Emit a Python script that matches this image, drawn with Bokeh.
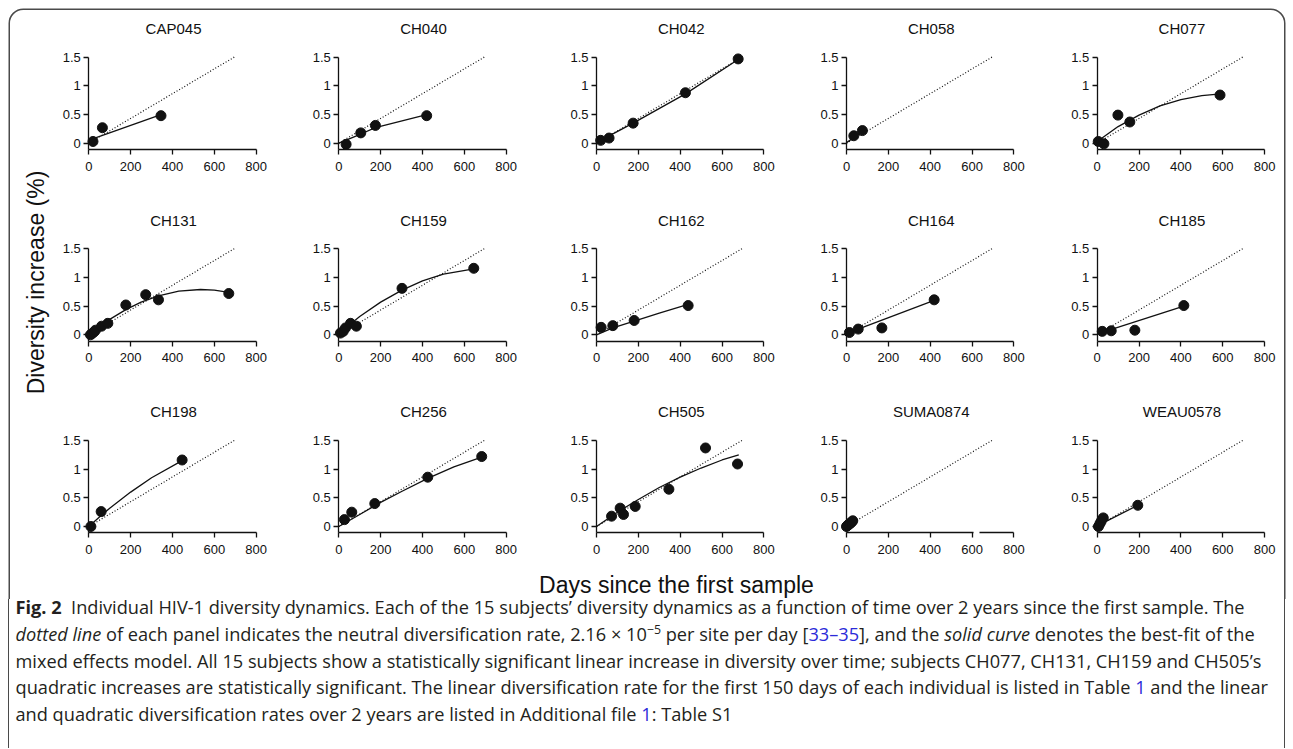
import math
from bokeh.plotting import figure
from bokeh.models import (Range1d, LinearAxis, FixedTicker, CustomJSTickFormatter,
                          Label, Div, BoxAnnotation)
from bokeh.layouts import column
from bokeh.core.properties import value
from bokeh.embed import file_html
from bokeh.resources import INLINE

# ---------------- data ----------------
subjects = ["CAP045", "CH040", "CH042", "CH058", "CH077",
            "CH131", "CH159", "CH162", "CH164", "CH185",
            "CH198", "CH256", "CH505", "SUMA0874", "WEAU0578"]

x_ticks = [0, 200, 400, 600, 800]
y_ticks = [0, 0.5, 1, 1.5]

# neutral diversification rate 2.16e-5 per site per day (in %), drawn to day 700
neutral_days = [0, 700]
neutral_div = [0, 1.512]

cap045_days = [20, 65, 345]
cap045_div = [0.03, 0.27, 0.48]
cap045_fit_days = [15, 345]
cap045_fit = [0.07, 0.50]

ch040_days = [35, 105, 175, 420]
ch040_div = [-0.02, 0.18, 0.31, 0.48]
ch040_fit_days = [0, 105, 175, 420]
ch040_fit = [0.0, 0.16, 0.27, 0.50]

ch042_days = [20, 60, 175, 425, 677]
ch042_div = [0.05, 0.09, 0.35, 0.88, 1.47]
ch042_fit_days = [20, 175, 425, 677]
ch042_fit = [0.05, 0.35, 0.86, 1.46]

ch058_days = [35, 76]
ch058_div = [0.13, 0.22]
ch058_fit_days = [0, 76]
ch058_fit = [0.01, 0.20]

ch077_days = [5, 32, 99, 156, 587]
ch077_div = [0.03, -0.01, 0.49, 0.37, 0.84]
ch077_fit_days = [0, 50, 100, 150, 200, 300, 400, 500, 590]
ch077_fit = [0.03, 0.16, 0.29, 0.39, 0.49, 0.65, 0.76, 0.83, 0.86]

ch131_days = [8, 15, 25, 32, 61, 91, 177, 272, 333, 669]
ch131_div = [0.0, 0.02, 0.05, 0.08, 0.15, 0.20, 0.52, 0.70, 0.61, 0.72]
ch131_fit_days = [0, 50, 100, 177, 250, 333, 430, 534, 600, 669]
ch131_fit = [0.0, 0.14, 0.27, 0.44, 0.57, 0.68, 0.76, 0.79, 0.78, 0.74]

ch159_days = [8, 21, 32, 56, 84, 302, 645]
ch159_div = [0.03, 0.06, 0.12, 0.20, 0.15, 0.81, 1.16]
ch159_fit_days = [0, 56, 100, 200, 302, 400, 500, 645]
ch159_fit = [0.02, 0.19, 0.32, 0.57, 0.78, 0.94, 1.06, 1.15]

ch162_days = [22, 78, 180, 438]
ch162_div = [0.13, 0.16, 0.25, 0.51]
ch162_fit_days = [0, 78, 180, 300, 438]
ch162_fit = [0.0, 0.12, 0.24, 0.38, 0.53]

ch164_days = [14, 56, 169, 419]
ch164_div = [0.04, 0.10, 0.12, 0.61]
ch164_fit_days = [5, 419]
ch164_fit = [0.03, 0.60]

ch185_days = [24, 67, 180, 414]
ch185_div = [0.06, 0.07, 0.08, 0.51]
ch185_fit_days = [20, 414]
ch185_fit = [0.04, 0.50]

ch198_days = [10, 59, 446]
ch198_div = [0.0, 0.26, 1.16]
ch198_fit_days = [0, 59, 100, 200, 300, 446]
ch198_fit = [0.0, 0.19, 0.32, 0.60, 0.85, 1.15]

ch256_days = [27, 62, 172, 425, 683]
ch256_div = [0.12, 0.25, 0.40, 0.86, 1.22]
ch256_fit_days = [0, 100, 200, 300, 425, 550, 683]
ch256_fit = [0.0, 0.21, 0.42, 0.61, 0.84, 1.04, 1.21]

ch505_days = [72, 113, 129, 185, 346, 521, 674]
ch505_div = [0.18, 0.32, 0.21, 0.35, 0.65, 1.37, 1.09]
ch505_fit_days = [0, 100, 200, 300, 400, 500, 600, 680]
ch505_fit = [0.0, 0.25, 0.47, 0.68, 0.86, 1.02, 1.16, 1.25]

suma0874_days = [0, 5, 10, 15, 20, 25, 30]
suma0874_div = [0.0, 0.02, 0.03, 0.05, 0.06, 0.08, 0.10]
suma0874_fit_days = [0, 30]
suma0874_fit = [0.0, 0.10]

weau0578_days = [6, 13, 19, 29, 194]
weau0578_div = [0.0, 0.05, 0.09, 0.15, 0.37]
weau0578_fit_days = [0, 194]
weau0578_fit = [0.01, 0.37]

panels = [
    (cap045_days, cap045_div, cap045_fit_days, cap045_fit),
    (ch040_days, ch040_div, ch040_fit_days, ch040_fit),
    (ch042_days, ch042_div, ch042_fit_days, ch042_fit),
    (ch058_days, ch058_div, ch058_fit_days, ch058_fit),
    (ch077_days, ch077_div, ch077_fit_days, ch077_fit),
    (ch131_days, ch131_div, ch131_fit_days, ch131_fit),
    (ch159_days, ch159_div, ch159_fit_days, ch159_fit),
    (ch162_days, ch162_div, ch162_fit_days, ch162_fit),
    (ch164_days, ch164_div, ch164_fit_days, ch164_fit),
    (ch185_days, ch185_div, ch185_fit_days, ch185_fit),
    (ch198_days, ch198_div, ch198_fit_days, ch198_fit),
    (ch256_days, ch256_div, ch256_fit_days, ch256_fit),
    (ch505_days, ch505_div, ch505_fit_days, ch505_fit),
    (suma0874_days, suma0874_div, suma0874_fit_days, suma0874_fit),
    (weau0578_days, weau0578_div, weau0578_fit_days, weau0578_fit),
]

caption_lines = [
    "Individual HIV-1 diversity dynamics. Each of the 15 subjects\u2019 diversity dynamics as a "
    "function of time over 2 years since the first sample. The",
    "of each panel indicates the neutral diversification rate, 2.16 \u00d7 10",
    "mixed effects model. All 15 subjects show a statistically significant linear increase in "
    "diversity over time; subjects CH077, CH131, CH159 and CH505\u2019s",
    "quadratic increases are statistically significant. The linear diversification rate for the "
    "first 150 days of each individual is listed in Table",
    "and quadratic diversification rates over 2 years are listed in Additional file",
]

# ---------------- layout (pixel geometry, page coordinates) ----------------
PAGE_W = 1293
FH = 599                    # chart figure height
DIV_H = 149                 # caption block height
COL_X0 = [88.3, 338.3, 596.0, 846.0, 1096.7]   # page x of day 0 in each column
ROW_Y0 = [142.7, 334.3, 526.0]                  # page y of 0 % in each row
KX = 167.4 / 800.0          # px per day
KY = 86.0 / 1.5             # px per %
XAXIS_AT = -0.113           # detached x axis position (data units)
BOX_L, BOX_R, BOX_T = 8.75, 1284.25, 8.75

FONT = "Liberation Sans"
INK = "#111111"
FRAME = "#4a4a4a"

p = figure(width=PAGE_W, height=FH, output_backend="svg", toolbar_location=None,
           x_range=Range1d(0, PAGE_W), y_range=Range1d(FH, 0),
           x_axis_type=None, y_axis_type=None, min_border=0,
           outline_line_color=None, background_fill_color="white",
           border_fill_color="white")

# rounded frame (top part; sides continue in the caption block)
p.add_layout(BoxAnnotation(left=BOX_L, right=BOX_R, top=BOX_T, bottom=FH + 60,
                           fill_color=None, fill_alpha=0, line_color=FRAME,
                           line_alpha=1.0, line_width=1.5, border_radius=14,
                           level="underlay"))

xr, yr = {}, {}
for i in range(15):
    r, c = divmod(i, 5)
    xs = -COL_X0[c] / KX
    xr[f"x{i}"] = Range1d(xs, xs + PAGE_W / KX)
    yt = ROW_Y0[r] / KY
    yb = (ROW_Y0[r] - FH) / KY
    yr[f"y{i}"] = Range1d(yb, yt)
p.extra_x_ranges = xr
p.extra_y_ranges = yr


def style_axis(ax, standoff):
    ax.axis_line_color = INK
    ax.axis_line_width = 1.3
    ax.major_tick_line_color = INK
    ax.major_tick_line_width = 1.3
    ax.major_tick_out = 5
    ax.major_tick_in = 0
    ax.minor_tick_line_color = None
    ax.major_label_text_font = FONT
    ax.major_label_text_font_size = "13px"
    ax.major_label_text_color = INK
    ax.major_label_standoff = standoff


for i, name in enumerate(subjects):
    xn, yn = f"x{i}", f"y{i}"
    days, div, fdays, fit = panels[i]

    if name == "SUMA0874":
        xa = LinearAxis(x_range_name=xn, y_range_name=yn, fixed_location=XAXIS_AT,
                        bounds=(0, 607), ticker=FixedTicker(ticks=x_ticks[:4]))
        style_axis(xa, 7)
        p.add_layout(xa, "below")
        xb = LinearAxis(x_range_name=xn, y_range_name=yn, fixed_location=XAXIS_AT,
                        bounds=(637, 800), ticker=FixedTicker(ticks=x_ticks[4:]))
        style_axis(xb, 7)
        p.add_layout(xb, "below")
    else:
        xa = LinearAxis(x_range_name=xn, y_range_name=yn, fixed_location=XAXIS_AT,
                        bounds=(0, 800), ticker=FixedTicker(ticks=x_ticks))
        style_axis(xa, 7)
        p.add_layout(xa, "below")

    ya = LinearAxis(x_range_name=xn, y_range_name=yn, fixed_location=0,
                    bounds=(XAXIS_AT, 1.5), ticker=FixedTicker(ticks=y_ticks),
                    formatter=CustomJSTickFormatter(code="return String(tick)"))
    style_axis(ya, 3)
    p.add_layout(ya, "left")

    p.line(neutral_days, neutral_div, x_range_name=xn, y_range_name=yn,
           line_color=INK, line_width=1.2, line_dash="1 2")
    p.line(fdays, fit, x_range_name=xn, y_range_name=yn,
           line_color=INK, line_width=1.3)
    p.scatter(days, div, x_range_name=xn, y_range_name=yn,
              size=10, fill_color=INK, line_color=INK)
    p.text(x=[405], y=[2.0], text=[name], x_range_name=xn, y_range_name=yn,
           text_align="center", text_baseline="middle",
           text_font=value(FONT), text_font_size=value("15px"), text_color=INK)

p.add_layout(Label(x=35, y=282, text="Diversity increase (%)", angle=math.pi / 2,
                   text_align="center", text_baseline="middle", text_font=FONT,
                   text_font_size="23px", text_color=INK))
p.add_layout(Label(x=676, y=584, text="Days since the first sample",
                   text_align="center", text_baseline="middle", text_font=FONT,
                   text_font_size="23px", text_color=INK))

# ---------------- caption ----------------
LINK = "#2b2bd9"
LINE = ("height:16px; line-height:16px; margin-bottom:10.75px; white-space:nowrap;")
sup = '<sup style="font-size:0.68em; line-height:0; vertical-align:0.55em;">\u22125</sup>'
caption_html = (
    '<div style="box-sizing:border-box; margin-left:8px; width:1277px; height:%dpx; '
    'border-left:1.5px solid %s; border-right:1.5px solid %s; padding-left:6.5px; '
    'padding-top:0px; font-family:\'Open Sans\'; font-size:18.2px; color:#231f20;">' % (DIV_H, FRAME, FRAME)
    + f'<div style="{LINE}"><b>Fig.&nbsp;2</b>&nbsp;&nbsp;{caption_lines[0]}</div>'
    + f'<div style="{LINE}"><i>dotted line</i> {caption_lines[1]}{sup} per site per day '
      f'[<span style="color:{LINK}">33\u201335</span>], and the <i>solid curve</i> denotes the '
      'best-fit of the</div>'
    + f'<div style="{LINE}">{caption_lines[2]}</div>'
    + f'<div style="{LINE}">{caption_lines[3]} <span style="color:{LINK}">1</span> and the linear</div>'
    + f'<div style="{LINE}">{caption_lines[4]} <span style="color:{LINK}">1</span>: Table S1</div>'
    + '</div>'
)
caption = Div(text=caption_html, width=PAGE_W, height=DIV_H, margin=(0, 0, 0, 0))

layout = column(p, caption, spacing=0)

open("out.html", "w").write(file_html(layout, INLINE))
